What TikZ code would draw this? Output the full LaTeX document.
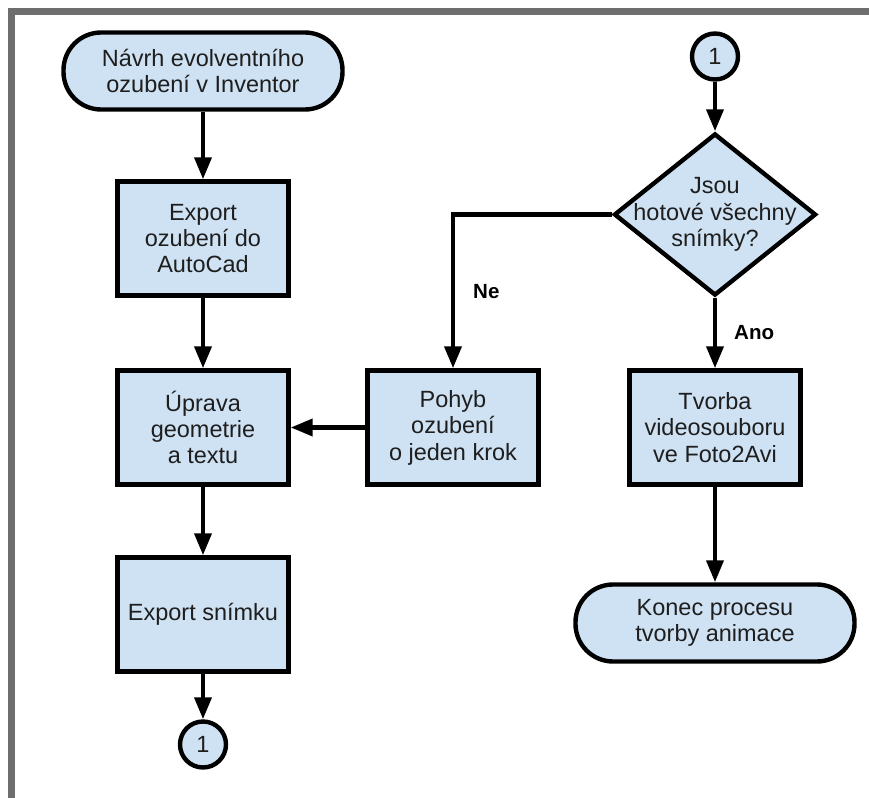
\documentclass[tikz,border=0pt]{standalone}
\usepackage{fontspec}
\setmainfont{Liberation Sans}
\usetikzlibrary{arrows.meta,positioning,shapes.geometric}
\definecolor{boxblue}{RGB}{207,226,243}
\definecolor{framegray}{RGB}{110,110,110}
\definecolor{txt}{RGB}{30,30,30}
\tikzset{
  proc/.style={draw, line width=1.1mm, fill=boxblue, text=txt, minimum height=28.5mm, minimum width=42.75mm, align=center, font=\fontsize{16.7pt}{18.8pt}\selectfont},
  term/.style={draw, line width=1.1mm, fill=boxblue, text=txt, rounded corners=9.4mm, minimum height=19.25mm, minimum width=69.75mm, align=center, font=\fontsize{16.7pt}{18.8pt}\selectfont},
  decision/.style={draw, diamond, line width=1.1mm, fill=boxblue, minimum height=40.5mm, minimum width=50.5mm, inner sep=0pt},
  conn/.style={draw, circle, line width=1.1mm, fill=boxblue, text=txt, minimum size=11.5mm, inner sep=0pt, font=\fontsize{16.7pt}{18.8pt}\selectfont},
  lbl/.style={inner sep=0pt, font=\fontsize{14.6pt}{16pt}\selectfont\bfseries},
  line/.style={-{Triangle[length=5.5mm, width=4.2mm]}, line width=1.1mm},
  frame/.style={line width=1.75mm, draw=framegray}
}
\begin{document}
\begin{tikzpicture}
  \useasboundingbox (0,0) rectangle (217.25mm,-199.5mm);
  \draw[frame] (2.875mm,-199.5mm) |- (217.25mm,-2.875mm);

  % left column
  \node[term] (start) at (50.75mm,-17.75mm) {Návrh evolventního\\ozubení v Inventor};
  \node[proc, below=16.9mm of start] (export) {Export\\ozubení do\\AutoCad};
  \node[proc, below=17.65mm of export] (uprava) {Úprava\\geometrie\\a textu};
  \node[proc, below=17.15mm of uprava] (snimek) {Export snímku};
  \node[conn, below=11.4mm of snimek] (c1) {1};

  % middle and right column
  \node[proc, right=18.65mm of uprava] (pohyb) {Pohyb\\ozubení\\o jeden krok};
  \node[proc, right=21.65mm of pohyb] (tvorba) {Tvorba\\videosouboru\\ve Foto2Avi};
  \node[decision, above=17.65mm of tvorba,
        label={[align=center, text=txt, font=\fontsize{16.7pt}{18.8pt}\selectfont]center:Jsou\\hotové všechny\\snímky?}] (check) {};
  \node[conn, above=12.4mm of check] (c2) {1};
  \node[term, below=23.9mm of tvorba] (konec) {Konec procesu\\tvorby animace};

  \draw[line] (start) -- (export);
  \draw[line] (export) -- (uprava);
  \draw[line] (uprava) -- (snimek);
  \draw[line] (snimek) -- (c1);
  \draw[line] (pohyb) -- (uprava);

  \draw[line] (c2) -- (check);
  \draw[line] (check.west) -| node[lbl, pos=0.75, right=4.5mm]{Ne} (pohyb.north);
  \draw[line] (check) -- node[lbl, right=4.25mm]{Ano} (tvorba);
  \draw[line] (tvorba) -- (konec);
\end{tikzpicture}
\end{document}
